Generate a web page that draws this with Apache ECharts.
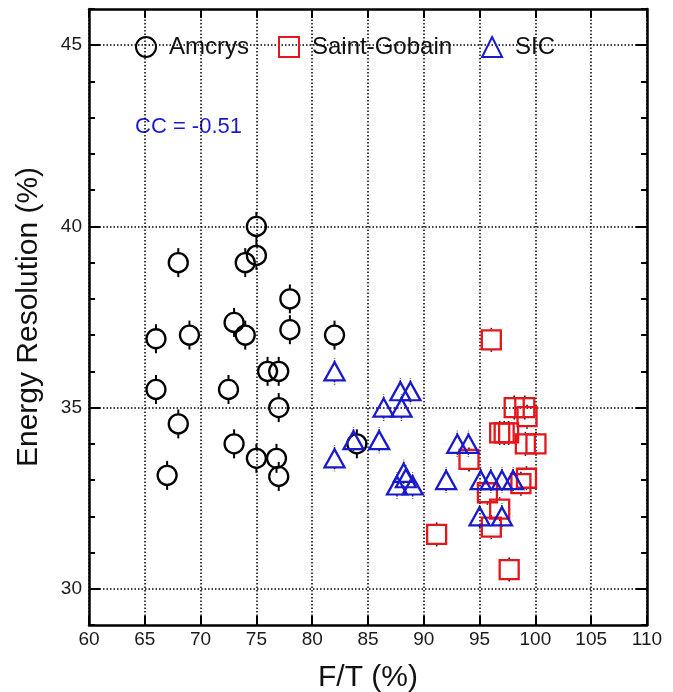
<!DOCTYPE html>
<html>
<head>
<meta charset="utf-8">
<script src="https://cdn.jsdelivr.net/npm/echarts@6/dist/echarts.min.js"></script>
<style>
  html, body { margin: 0; padding: 0; background: #fff; }
  #chart { width: 673px; height: 692px; }
</style>
</head>
<body>
<div id="chart"></div>
<script>
// values
const amcrysX = [75, 75, 74, 68, 78, 73, 74, 69, 66, 78, 82, 76, 77, 66, 72.5, 77, 68, 73, 67, 75, 76.8, 77, 84];
const amcrysY = [40, 39.2, 39, 39, 38, 37.35, 37, 37, 36.9, 37.15, 37, 36, 36, 35.5, 35.5, 35, 34.55, 34, 33.13, 33.6, 33.6, 33.1, 34];
const gobainX = [96.05, 98.1, 99.05, 99.25, 96.8, 97.2, 97.6, 99.1, 100.05, 94.05, 98.7, 99.2, 95.7, 96.8, 96.05, 91.15, 97.65];
const gobainY = [36.87, 35, 35, 34.75, 34.3, 34.3, 34.3, 34, 34, 33.57, 32.9, 33.05, 32.65, 32.2, 31.7, 31.5, 30.53];
const sicX = [82, 87.9, 88.8, 86.4, 88, 83.7, 86, 82, 88.2, 88.4, 87.6, 89, 92, 93, 94, 95.1, 96, 97, 98, 95, 97];
const sicY = [36, 35.45, 35.45, 35, 35, 34.1, 34.1, 33.6, 33.2, 33.05, 32.85, 32.85, 33, 34, 34, 33, 33, 33, 33, 32, 32];
const amcrysErr = [0, 0.4];
const gobainErr = [0.95, 0.34];
const sicErr = [0.95, 0.36];
const yMajorTicks = [30, 35, 40, 45];
const ccText = "CC = -0.51";

const FONT = "Liberation Sans";
const RED = "#e3161b";
const BLUE = "#1a1acd";

function zip(xs, ys) {
  return xs.map((x, i) => [x, ys[i]]);
}

// error bars drawn only outside the marker
function errSeries(xs, ys, err, hx, hy, dash, width) {
  return {
    type: "custom",
    silent: true,
    z: 1,
    data: zip(xs, ys),
    encode: { x: 0, y: 1 },
    renderItem: function (params, api) {
      let x = api.value(0), y = api.value(1);
      let c = api.coord([x, y]);
      let up = api.coord([x, y + err[1]]);
      let right = api.coord([x + err[0], y]);
      let dy = c[1] - up[1], dx = right[0] - c[0];
      let style = { stroke: "#000", lineWidth: width, lineDash: dash };
      let kids = [];
      if (dy > hy) {
        kids.push({ type: "line", shape: { x1: c[0], y1: c[1] - hy, x2: c[0], y2: c[1] - dy }, style: style });
        kids.push({ type: "line", shape: { x1: c[0], y1: c[1] + hy, x2: c[0], y2: c[1] + dy }, style: style });
      }
      if (dx > hx) {
        kids.push({ type: "line", shape: { x1: c[0] - hx, y1: c[1], x2: c[0] - dx, y2: c[1] }, style: style });
        kids.push({ type: "line", shape: { x1: c[0] + hx, y1: c[1], x2: c[0] + dx, y2: c[1] }, style: style });
      }
      return { type: "group", children: kids };
    }
  };
}

let chart = echarts.init(document.getElementById("chart"));

let axisLine = { show: true, lineStyle: { color: "#000", width: 2.5 } };
let dotted = { show: true, lineStyle: { color: "#000", width: 1.5, type: [1.5, 2] } };

let option = {
  backgroundColor: "#fff",
  animation: false,
  grid: { left: 89, right: 26, top: 9, bottom: 67, outerBoundsMode: "none", containLabel: false },
  legend: {
    data: ["Amcrys", "Saint-Gobain", "SIC"],
    left: 135,
    top: 35,
    orient: "horizontal",
    padding: 0,
    itemWidth: 20,
    itemHeight: 20,
    itemGap: 29,
    selectedMode: false,
    textStyle: { fontFamily: FONT, fontSize: 24, color: "#111", padding: [0, 0, 0, 8] }
  },
  graphic: [
    {
      type: "text",
      left: 135,
      top: 116,
      style: { text: ccText, fontFamily: FONT, fontSize: 22, fill: BLUE }
    }
  ],
  xAxis: [
    {
      type: "value",
      position: "bottom",
      min: 60,
      max: 110,
      interval: 5,
      name: "F/T (%)",
      nameLocation: "middle",
      nameGap: 38,
      nameTextStyle: { fontFamily: FONT, fontSize: 30, color: "#111" },
      axisLine: axisLine,
      axisTick: { show: true, inside: true, length: 9, lineStyle: { color: "#000", width: 2 } },
      axisLabel: { fontFamily: FONT, fontSize: 19, color: "#1a1a1a", margin: 5 },
      splitLine: dotted
    },
    {
      type: "value",
      position: "top",
      min: 60,
      max: 110,
      interval: 5,
      axisLine: axisLine,
      axisTick: { show: true, inside: true, length: 9, lineStyle: { color: "#000", width: 2 } },
      axisLabel: { show: false },
      splitLine: { show: false }
    }
  ],
  yAxis: [
    {
      type: "value",
      position: "left",
      min: 29,
      max: 46,
      interval: 1,
      name: "Energy Resolution (%)",
      nameLocation: "middle",
      nameGap: 45,
      nameTextStyle: { fontFamily: FONT, fontSize: 30, color: "#111" },
      axisLine: axisLine,
      axisTick: { show: true, inside: true, length: 6, lineStyle: { color: "#000", width: 2 } },
      axisLabel: {
        fontFamily: FONT,
        fontSize: 19,
        color: "#1a1a1a",
        margin: 7,
        formatter: function (v) { return yMajorTicks.indexOf(v) >= 0 ? String(v) : ""; }
      },
      splitLine: { show: false }
    },
    {
      type: "value",
      position: "left",
      min: 29,
      max: 46,
      axisLine: { show: false },
      axisTick: { show: true, inside: true, length: 11, customValues: yMajorTicks, lineStyle: { color: "#000", width: 2 } },
      axisLabel: { show: false },
      splitLine: dotted
    },
    {
      type: "value",
      position: "right",
      min: 29,
      max: 46,
      interval: 1,
      axisLine: axisLine,
      axisTick: { show: true, inside: true, length: 6, lineStyle: { color: "#000", width: 2 } },
      axisLabel: { show: false },
      splitLine: { show: false }
    },
    {
      type: "value",
      position: "right",
      min: 29,
      max: 46,
      axisLine: { show: false },
      axisTick: { show: true, inside: true, length: 11, customValues: yMajorTicks, lineStyle: { color: "#000", width: 2 } },
      axisLabel: { show: false },
      splitLine: { show: false }
    }
  ],
  series: [
    errSeries(amcrysX, amcrysY, amcrysErr, 10, 10, null, 2),
    errSeries(gobainX, gobainY, gobainErr, 10.5, 10.5, [1.5, 1.5], 1.5),
    errSeries(sicX, sicY, sicErr, 10.5, 9.5, [1.5, 1.5], 1.5),
    {
      name: "Amcrys",
      type: "scatter",
      symbol: "circle",
      symbolSize: 19,
      z: 3,
      data: zip(amcrysX, amcrysY),
      itemStyle: { color: "rgba(0,0,0,0)", borderColor: "#000", borderWidth: 2.3, opacity: 1 }
    },
    {
      name: "Saint-Gobain",
      type: "scatter",
      symbol: "rect",
      symbolSize: 19,
      z: 3,
      data: zip(gobainX, gobainY),
      itemStyle: { color: "rgba(0,0,0,0)", borderColor: RED, borderWidth: 2.3, opacity: 1 }
    },
    {
      name: "SIC",
      type: "scatter",
      symbol: "triangle",
      symbolSize: [20, 18],
      z: 3,
      data: zip(sicX, sicY),
      itemStyle: { color: "rgba(0,0,0,0)", borderColor: BLUE, borderWidth: 2.3, opacity: 1 }
    }
  ]
};

chart.setOption(option);
</script>
</body>
</html>
